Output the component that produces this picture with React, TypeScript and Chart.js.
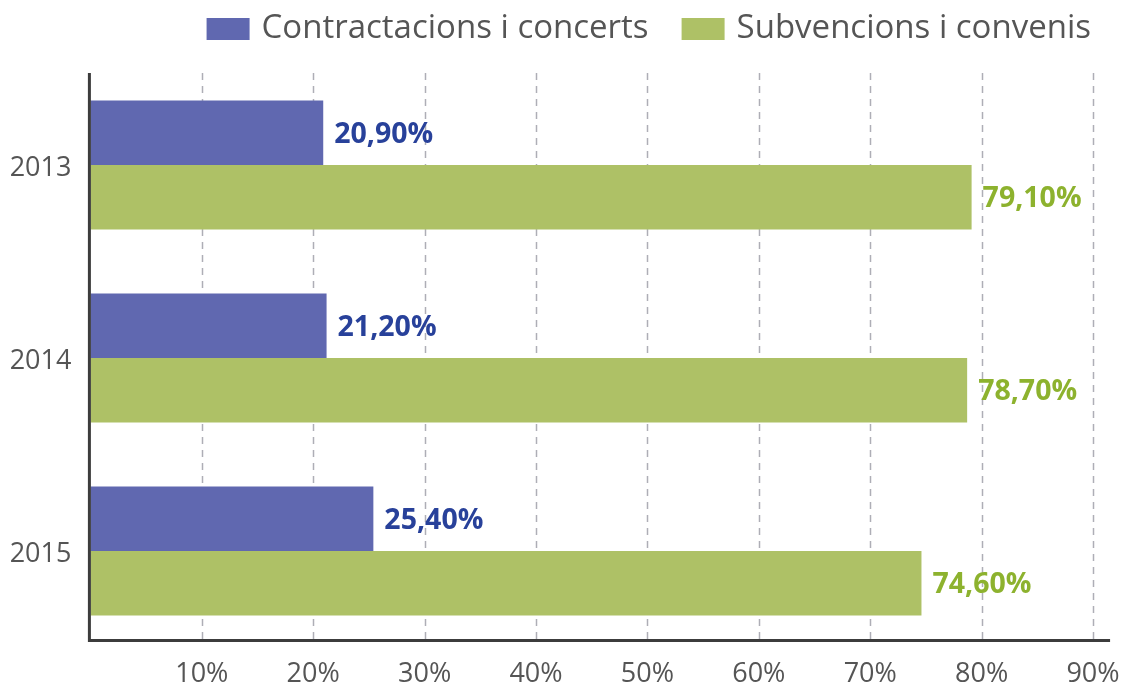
import React, { useEffect, useRef } from 'react';
import { Chart, registerables } from 'chart.js';

Chart.register(...registerables);

const years = ['2013', '2014', '2015'];
const contractacions = [20.9, 21.2, 25.4];
const subvencions = [79.1, 78.7, 74.6];
const xTickValues = [10, 20, 30, 40, 50, 60, 70, 80, 90];
const seriesNames = ['Contractacions i concerts', 'Subvencions i convenis'];
const barColors = ['#6068b0', '#aec166'];
const labelColors = ['#28419a', '#8db22e'];
const xMax = 92.69;
const axisLineEnd = 91.53;

const FONT = '"Open Sans", "Noto Sans", sans-serif';
const TEXT = '#555555';

const fmt = (v: number) => v.toFixed(2).replace('.', ',') + '%';

const customPlugin = {
  id: 'custom',
  beforeDatasetsDraw(chart: any) {
    const { ctx, chartArea, scales } = chart;
    const x = scales.x;
    const top = chartArea.top + 4.5;
    const axisY = chartArea.bottom - 8.5;
    ctx.save();
    ctx.strokeStyle = '#aeaeb6';
    ctx.lineWidth = 1.5;
    ctx.setLineDash([7, 6]);
    xTickValues.forEach((v) => {
      const px = Math.round(x.getPixelForValue(v)) + 0.5;
      ctx.beginPath();
      ctx.moveTo(px, top);
      ctx.lineTo(px, axisY);
      ctx.stroke();
    });
    ctx.restore();
  },
  afterDatasetsDraw(chart: any) {
    const { ctx, chartArea, scales } = chart;
    const x = scales.x;
    const top = chartArea.top + 4.5;
    const axisY = chartArea.bottom - 8.5;
    const x0 = x.getPixelForValue(0) - 1;
    ctx.save();
    ctx.strokeStyle = '#3c3c3c';
    ctx.lineWidth = 3;
    ctx.setLineDash([]);
    ctx.beginPath();
    ctx.moveTo(x0, top);
    ctx.lineTo(x0, axisY + 1.5);
    ctx.lineTo(x.getPixelForValue(axisLineEnd), axisY + 1.5);
    ctx.stroke();

    // value labels
    ctx.font = `bold 28.5px ${FONT}`;
    ctx.textBaseline = 'middle';
    ctx.textAlign = 'left';
    chart.data.datasets.forEach((ds: any, di: number) => {
      const meta = chart.getDatasetMeta(di);
      ctx.fillStyle = labelColors[di];
      meta.data.forEach((bar: any, i: number) => {
        ctx.fillText(fmt(ds.data[i]), bar.x + 11, bar.y + 2);
      });
    });

    // legend
    ctx.font = `33px ${FONT}`;
    const boxW = 43;
    const boxH = 22;
    const gapBox = 12;
    const gapItem = 33;
    const widths = chart.data.datasets.map((ds: any) => ctx.measureText(ds.label).width);
    let total = 0;
    widths.forEach((w: number, i: number) => {
      total += boxW + gapBox + w + (i > 0 ? gapItem : 0);
    });
    let cx = chartArea.right - 32 - total;
    const cy = 29;
    chart.data.datasets.forEach((ds: any, i: number) => {
      ctx.fillStyle = ds.backgroundColor;
      ctx.fillRect(cx, cy - boxH / 2, boxW, boxH);
      ctx.fillStyle = TEXT;
      ctx.fillText(ds.label, cx + boxW + gapBox, cy);
      cx += boxW + gapBox + widths[i] + gapItem;
    });
    ctx.restore();
  },
};

function App() {
  const ref = useRef<HTMLCanvasElement>(null);
  useEffect(() => {
    document.body.style.margin = '0';
    if (!ref.current) return;
    const chart = new Chart(ref.current, {
      type: 'bar',
      data: {
        labels: years,
        datasets: [
          {
            label: seriesNames[0],
            data: contractacions,
            backgroundColor: barColors[0],
            categoryPercentage: 0.668,
            barPercentage: 1,
          },
          {
            label: seriesNames[1],
            data: subvencions,
            backgroundColor: barColors[1],
            categoryPercentage: 0.668,
            barPercentage: 1,
          },
        ],
      },
      options: {
        indexAxis: 'y',
        responsive: false,
        animation: false,
        layout: { padding: { top: 68.5, right: 0, left: 0, bottom: 0 } },
        plugins: {
          legend: { display: false },
          tooltip: { enabled: false },
        },
        scales: {
          x: {
            min: 0,
            max: xMax,
            afterBuildTicks: (s: any) => {
              s.ticks = xTickValues.map((v) => ({ value: v }));
            },
            afterFit: (s: any) => {
              s.height = 35.5;
              s.paddingRight = 0;
              s.paddingLeft = 0;
            },
            grid: { display: false, drawTicks: false },
            border: { display: false },
            ticks: {
              color: TEXT,
              font: { family: FONT, size: 27 },
              padding: 11,
              maxRotation: 0,
              autoSkip: false,
              callback: (v: any) => `${v}%`,
            },
          },
          y: {
            afterFit: (s: any) => {
              s.width = 90.4;
            },
            grid: { display: false, drawTicks: false },
            border: { display: false },
            ticks: {
              color: TEXT,
              font: { family: FONT, size: 27 },
              padding: 19,
              labelOffset: 3,
            },
          },
        },
      },
      plugins: [customPlugin],
    });
    return () => chart.destroy();
  }, []);
  return (
    <div style={{ position: 'fixed', left: 0, top: 0, width: 1123, height: 683, background: '#fff' }}>
      <canvas ref={ref} width={1123} height={683} style={{ width: 1123, height: 683 }} />
    </div>
  );
}

export default App;
